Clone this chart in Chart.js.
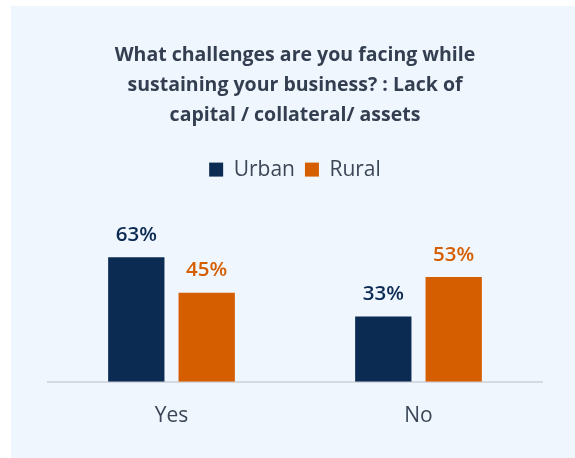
<!DOCTYPE html>
<html>
<head>
<meta charset="utf-8">
<script src="https://cdn.jsdelivr.net/npm/chart.js@4"></script>
<style>
    body { margin: 0; background: #ffffff; }
    #panel {
        position: absolute;
        left: 11px;
        top: 6px;
        width: 564px;
        height: 452px;
        background: #f0f6fe;
    }
</style>
</head>
<body>
<div id="panel"><canvas id="chart" width="564" height="452"></canvas></div>
<script>
const categories = ['Yes', 'No'];
const urbanValues = [63, 33];
const ruralValues = [45, 53];
const seriesNames = ['Urban', 'Rural'];
const titleLines = ['What challenges are you facing while', 'sustaining your business? : Lack of', 'capital / collateral/ assets'];

const navy = '#0b2b52';
const orange = '#d55e00';
const textColor = '#333f50';

// Etiquetas de valor encima de cada barra
const valueLabels = {
    id: 'valueLabels',
    afterDatasetsDraw(chart) {
        const ctx = chart.ctx;
        ctx.save();
        ctx.font = '600 20.5px "Open Sans"';
        ctx.textAlign = 'center';
        ctx.textBaseline = 'bottom';
        chart.data.datasets.forEach((ds, i) => {
            const meta = chart.getDatasetMeta(i);
            ctx.fillStyle = ds.backgroundColor;
            meta.data.forEach((bar, j) => {
                ctx.fillText(ds.data[j] + '%', bar.x, bar.y - 12);
            });
        });
        ctx.restore();
    }
};

new Chart(document.getElementById('chart'), {
    type: 'bar',
    data: {
        labels: categories,
        datasets: [
            { label: seriesNames[0], data: urbanValues, backgroundColor: navy },
            { label: seriesNames[1], data: ruralValues, backgroundColor: orange }
        ]
    },
    options: {
        responsive: false,
        animation: false,
        categoryPercentage: 0.57,
        barPercentage: 0.8,
        layout: { padding: { left: 37, right: 33, top: 34, bottom: 7 } },
        plugins: {
            title: {
                display: true,
                text: titleLines,
                color: textColor,
                font: { family: 'Open Sans', size: 19.5, weight: 'bold', lineHeight: 1.54 },
                padding: { top: 0, bottom: 19 }
            },
            legend: {
                labels: {
                    color: '#3b4656',
                    font: { family: 'Open Sans', size: 21 },
                    boxWidth: 14,
                    boxHeight: 14,
                    padding: 10
                }
            },
            tooltip: { enabled: false }
        },
        scales: {
            x: {
                grid: { display: false, drawTicks: false },
                border: { color: '#d5dae2', width: 2 },
                ticks: {
                    color: '#3b4656',
                    font: { family: 'Open Sans', size: 21 },
                    padding: 22
                }
            },
            y: {
                display: false,
                min: 0,
                max: 97
            }
        }
    },
    plugins: [valueLabels]
});
</script>
</body>
</html>
